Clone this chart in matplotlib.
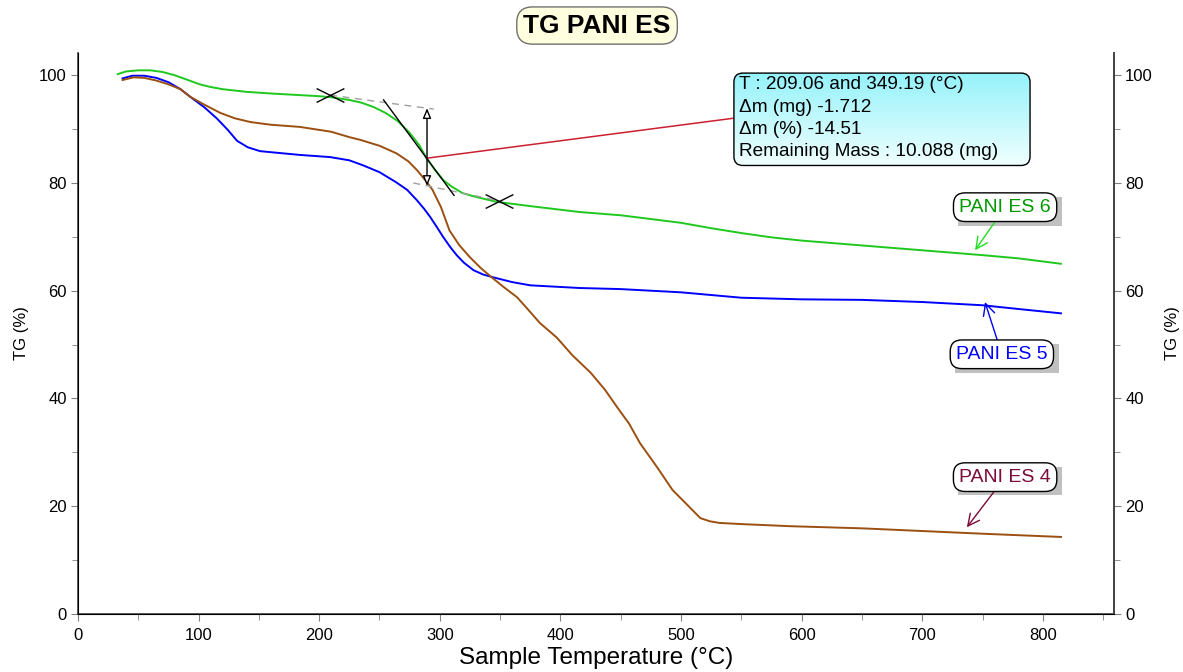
import matplotlib
matplotlib.use("Agg")
import numpy as np
import matplotlib.pyplot as plt
from matplotlib.path import Path
from matplotlib.patches import FancyBboxPatch, Rectangle
from matplotlib.transforms import IdentityTransform
from matplotlib.ticker import MultipleLocator

plt.rcParams['font.family'] = ['Liberation Sans', 'DejaVu Sans']

# ---------------- data ----------------
t_es6 = [33, 40, 50, 60, 70, 80, 90, 101, 110, 120, 140, 160, 184, 200, 210, 225, 235, 245, 255,
         265, 275, 283, 289, 296, 303, 310, 319, 330, 347, 375, 416, 450, 475, 500, 525, 550,
         575, 600, 650, 700, 750, 780, 815]
tg_es6 = [100.2, 100.7, 100.9, 100.9, 100.6, 100.0, 99.2, 98.3, 97.8, 97.4, 96.9, 96.6, 96.3, 96.1,
          95.9, 95.4, 94.9, 94.1, 93.0, 91.5, 89.3, 87.0, 84.6, 82.4, 80.5, 79.3, 78.1, 77.4, 76.5,
          75.7, 74.6, 74.0, 73.3, 72.6, 71.6, 70.7, 69.9, 69.3, 68.4, 67.5, 66.6, 66.0, 65.0]

t_es5 = [37, 45, 55, 65, 75, 85, 93, 105, 115, 124, 132, 141, 151, 165, 184, 209, 225, 236, 250,
         264, 273, 281, 287, 292, 297, 303, 309, 314, 320, 328, 336, 344, 360, 375, 416, 450, 500,
         550, 600, 650, 700, 750, 780, 815]
tg_es5 = [99.4, 99.9, 99.9, 99.5, 98.7, 97.4, 96.0, 94.0, 92.0, 89.9, 87.8, 86.6, 85.9, 85.6, 85.2,
          84.8, 84.2, 83.3, 82.0, 80.1, 78.7, 76.8, 75.2, 73.7, 72.0, 69.9, 68.0, 66.6, 65.2, 63.8,
          63.0, 62.5, 61.6, 61.0, 60.5, 60.3, 59.7, 58.7, 58.4, 58.3, 57.9, 57.3, 56.6, 55.8]

t_es4 = [37, 46, 55, 65, 75, 85, 93, 105, 118, 130, 143, 160, 184, 210, 225, 234, 250, 264, 274,
         281, 288, 294, 301, 308, 316, 325, 334, 344, 354, 364, 372, 383, 397, 410, 425, 437, 447,
         457, 466, 480, 493, 505, 516, 524, 532, 549, 590, 650, 700, 750, 815]
tg_es4 = [99.1, 99.6, 99.5, 99.0, 98.3, 97.4, 96.0, 94.5, 93.0, 92.0, 91.3, 90.8, 90.4, 89.5, 88.5,
          88.0, 86.9, 85.5, 84.0, 82.4, 80.5, 78.7, 75.5, 71.2, 68.5, 66.2, 64.2, 62.3, 60.5, 58.8,
          56.8, 54.0, 51.3, 48.0, 44.8, 41.6, 38.4, 35.3, 31.7, 27.3, 23.0, 20.3, 17.8, 17.2, 16.9,
          16.7, 16.3, 15.9, 15.4, 14.9, 14.3]

series_labels = ["PANI ES 6", "PANI ES 5", "PANI ES 4"]
line_colors = ["#1ec81e", "#0000ff", "#9b4f10"]
label_colors = ["#009900", "#0000ff", "#7a0a3a"]
arrow_colors = ["#22dd22", "#0000ff", "#7a0a3a"]
label_pos = [(768.7, 75.5), (766.0, 48.2), (768.7, 25.4)]
arrow_tip = [(743.8, 67.5), (752.0, 57.9), (737.0, 16.1)]

# step analysis (ES 6)
step_T = [209.06, 349.19]
step_TG = [96.3, 76.7]
step_x = 289.4
step_top, step_bot = 93.87, 79.45
upper_base_T = [209.06, 295.0]
upper_base_TG = [96.3, 93.7]
lower_base_T = [278.0, 349.19]
lower_base_TG = [80.0, 76.7]
tangent_T = [253.4, 311.8]
tangent_TG = [95.4, 77.7]
connector_T = [289.4, 543.1]
connector_TG = [84.6, 92.0]
info_lines = ["T : 209.06 and 349.19 (°C)",
              "Δm (mg) -1.712",
              "Δm (%) -14.51",
              "Remaining Mass : 10.088 (mg)"]

# ---------------- figure ----------------
fig = plt.figure(figsize=(11.83, 6.72), dpi=100)
ax = fig.add_axes([0.0659, 0.0863, 0.8758, 0.8347])

ax.plot(t_es6, tg_es6, color=line_colors[0], lw=1.4, zorder=3)
ax.plot(t_es5, tg_es5, color=line_colors[1], lw=1.4, zorder=3)
ax.plot(t_es4, tg_es4, color=line_colors[2], lw=1.4, zorder=3)

ax.set_xlim(0, 859)
ax.set_ylim(0, 104.1)
ax.xaxis.set_major_locator(MultipleLocator(100))
ax.xaxis.set_minor_locator(MultipleLocator(50))
ax.yaxis.set_major_locator(MultipleLocator(20))
ax.yaxis.set_minor_locator(MultipleLocator(10))
ax.spines['top'].set_visible(False)
for s in ['left', 'bottom', 'right']:
    ax.spines[s].set_color('#404040')
    ax.spines[s].set_linewidth(1.2)
ax.tick_params(which='major', length=5, color='#808080', labelsize=12, pad=3)
ax.tick_params(axis='x', which='major', pad=5)
ax.tick_params(which='minor', length=4, color='#808080')
ax.set_xlabel("Sample Temperature (°C)", fontsize=17.5)
ax.xaxis.set_label_coords(0.5, -0.058)
ax.set_ylabel("TG (%)", fontsize=12)
ax.yaxis.set_label_coords(-0.047, 0.5)

ax2 = ax.twinx()
ax2.set_ylim(0, 104.1)
ax2.yaxis.set_major_locator(MultipleLocator(20))
ax2.yaxis.set_minor_locator(MultipleLocator(10))
ax2.spines['top'].set_visible(False)
ax2.spines['right'].set_color('#404040')
ax2.spines['right'].set_linewidth(1.2)
ax2.tick_params(which='major', length=5, color='#808080', labelsize=12, pad=3)
ax2.tick_params(which='minor', length=4, color='#808080')
ax2.set_ylabel("TG (%)", fontsize=12, rotation=90)
ax2.yaxis.set_label_coords(1.049, 0.5)

# step analysis graphics
ax.plot(upper_base_T, upper_base_TG, color='#a0a0a0', lw=1, ls=(0, (5, 4)), zorder=4)
ax.plot(lower_base_T, lower_base_TG, color='#a0a0a0', lw=1, ls=(0, (5, 4)), zorder=4)
ax.plot(tangent_T, tangent_TG, color='black', lw=1, zorder=5)
ax.plot(connector_T, connector_TG, color='#cc2030', lw=1.1, zorder=5)
xmark = Path([(-1, -0.5), (1, 0.5), (-1, 0.5), (1, -0.5)],
             [Path.MOVETO, Path.LINETO, Path.MOVETO, Path.LINETO])
ax.plot(step_T, step_TG, ls='none', marker=xmark, markersize=20, mec='black', mew=1, zorder=6)
ax.annotate("", xy=(step_x, step_bot), xytext=(step_x, step_top),
            arrowprops=dict(arrowstyle='<|-|>,head_length=0.6,head_width=0.25', fc='white',
                            ec='black', lw=1, shrinkA=0, shrinkB=0), zorder=6)

info = ax.text(548, 92.0, "\n".join(info_lines), fontsize=13.7, ha='left', va='center',
               linespacing=1.42, zorder=8)

# series labels
label_texts = []
for lab, pos, tip, tc, ac in zip(series_labels, label_pos, arrow_tip, label_colors, arrow_colors):
    a = ax.annotate(lab, xy=tip, xytext=pos, fontsize=14, ha='center', va='center', color=tc,
                    bbox=dict(boxstyle='round,pad=0.3,rounding_size=0.6', fc='white', ec='black',
                              lw=1),
                    arrowprops=dict(arrowstyle='->,head_length=0.6,head_width=0.3', color=ac,
                                    lw=1, shrinkA=0, shrinkB=0), zorder=7)
    label_texts.append(a)

fig.text(0.5047, 0.962, "TG PANI ES", fontsize=19, fontweight='bold', ha='center', va='center',
         bbox=dict(boxstyle='round,pad=0.25,rounding_size=0.6', fc='#ffffe0', ec='#707070', lw=1))

# ---- boxes drawn in pixel space after a first layout pass ----
fig.canvas.draw()
rend = fig.canvas.get_renderer()

# shadows of the series labels
for a in label_texts:
    bb = a.get_bbox_patch().get_window_extent(rend)
    sh = Rectangle((bb.x0 + 5, bb.y0 - 4), bb.width, bb.height, transform=IdentityTransform(),
                   fc='#c0c0c0', ec='none', zorder=6)
    ax.add_artist(sh)

# info box with a cyan gradient
tb = info.get_window_extent(rend)
bx0, bx1 = tb.x0 - 5, tb.x1 + 32
by0, by1 = tb.y0 - 5, tb.y1 + 3
box = FancyBboxPatch((bx0, by0), bx1 - bx0, by1 - by0,
                     boxstyle='round,pad=0,rounding_size=9', transform=IdentityTransform(),
                     fc='none', ec='black', lw=1, zorder=7.5)
ax.add_artist(box)
inv = ax.transData.inverted()
(x0, y0), (x1, y1) = inv.transform([(bx0, by0), (bx1, by1)])
top_c = np.array([0.58, 0.95, 0.98])
bot_c = np.array([0.94, 1.0, 1.0])
f = np.linspace(0, 1, 64)[:, None]
grad = (top_c[None, :] * (1 - f) + bot_c[None, :] * f)[:, None, :]
im = ax.imshow(grad, extent=(x0, x1, y0, y1), origin='upper', aspect='auto', zorder=7,
               interpolation='bilinear')
im.set_clip_path(box)
ax.set_xlim(0, 859)
ax.set_ylim(0, 104.1)

fig.savefig("out.png", dpi=100)
